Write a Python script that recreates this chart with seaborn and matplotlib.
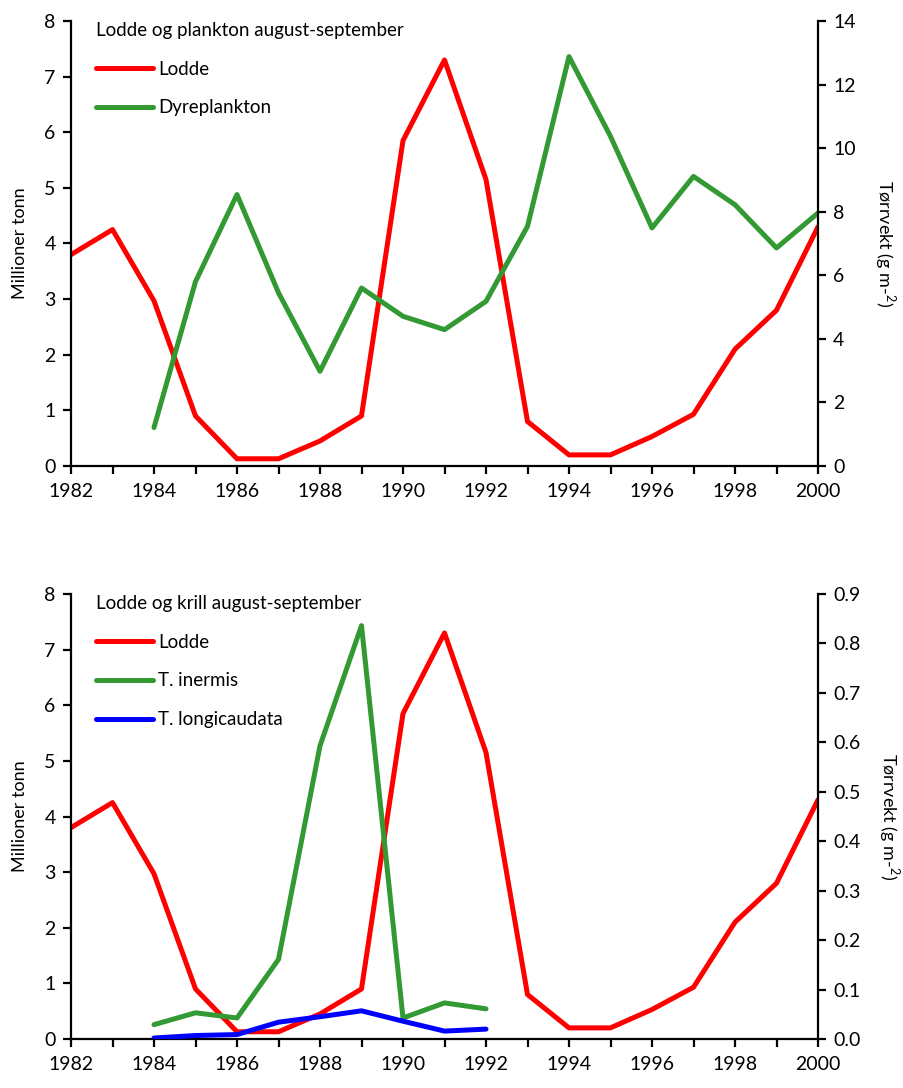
import matplotlib
matplotlib.use("Agg")
import matplotlib.pyplot as plt
import seaborn as sns
import numpy as np
from matplotlib.ticker import MultipleLocator, FormatStrFormatter

years = list(range(1982, 2001))
lodde = [3.8, 4.25, 2.97, 0.9, 0.13, 0.13, 0.45, 0.9, 5.85, 7.3, 5.15,
         0.8, 0.2, 0.2, 0.53, 0.93, 2.1, 2.8, 4.3]

plankton_years = list(range(1984, 2001))
dyreplankton = [1.21, 5.8, 8.54, 5.45, 2.98, 5.6, 4.71, 4.29, 5.18, 7.54,
                12.88, 10.37, 7.49, 9.11, 8.22, 6.86, 7.96]

krill_years = list(range(1984, 1993))
t_inermis = [0.029, 0.053, 0.0425, 0.161, 0.593, 0.836, 0.0425, 0.073, 0.061]
t_longicaudata = [0.002, 0.007, 0.009, 0.034, 0.045, 0.057, 0.036, 0.016, 0.020]

RED = "#ff0000"
GREEN = "#339933"
BLUE = "#0000ff"

sns.set_style("ticks")
FONT = 'Lato'
plt.rcParams['font.family'] = [FONT, 'DejaVu Sans']
plt.rcParams['mathtext.fontset'] = 'custom'
plt.rcParams['mathtext.rm'] = FONT
plt.rcParams['text.color'] = 'black'
plt.rcParams['axes.labelcolor'] = 'black'
plt.rcParams['xtick.color'] = 'black'
plt.rcParams['ytick.color'] = 'black'

fig = plt.figure(figsize=(9.04, 10.88), dpi=100)
W, H = 904, 1088
ax_l, ax_r = 71, 818

def make_axes(top_px, bottom_px):
    return fig.add_axes([ax_l / W, 1 - bottom_px / H, (ax_r - ax_l) / W, (bottom_px - top_px) / H])

LW = 3.6
TICK_FS = 14
LEG_FS = 13.5

def style_axes(ax, ax2, right_max, right_step, right_fmt):
    ax.set_xlim(1982, 2000)
    ax.set_ylim(0, 8)
    ax2.set_ylim(0, right_max)
    ax.xaxis.set_major_locator(MultipleLocator(2))
    ax.xaxis.set_minor_locator(MultipleLocator(1))
    ax.yaxis.set_major_locator(MultipleLocator(1))
    ax2.yaxis.set_major_locator(MultipleLocator(right_step))
    if right_fmt:
        ax2.yaxis.set_major_formatter(FormatStrFormatter(right_fmt))
    for a in (ax, ax2):
        for s in a.spines.values():
            s.set_linewidth(1.6)
            s.set_color("black")
        a.spines['top'].set_visible(False)
    ax.spines['right'].set_visible(False)
    ax2.spines['left'].set_visible(False)
    ax2.spines['bottom'].set_visible(False)
    ax.tick_params(axis='x', which='both', direction='out', length=6, width=1.6,
                   labelsize=TICK_FS, pad=6, colors='black')
    ax.tick_params(axis='y', direction='out', length=6, width=1.6, labelsize=TICK_FS, pad=5)
    ax2.tick_params(axis='y', direction='out', length=6, width=1.6, labelsize=TICK_FS, pad=5)
    ax.set_ylabel("Millioner tonn", fontsize=13, labelpad=12)
    ax2.set_ylabel("Tørrvekt (g m-$^{2}$)", fontsize=13, rotation=270, labelpad=30)
    ax.set_xlabel("")
    ax.grid(False)
    ax2.grid(False)

def add_legend(ax_main, ax_twin, title):
    h1, l1 = ax_main.get_legend_handles_labels()
    h2, l2 = ax_twin.get_legend_handles_labels()
    for a in (ax_main, ax_twin):
        if a.get_legend():
            a.get_legend().remove()
    ax_twin.legend(h1 + h2, l1 + l2, title=title,
                   loc='upper left', bbox_to_anchor=(0.024, 1.015), borderaxespad=0,
                   frameon=False, fontsize=LEG_FS, title_fontsize=LEG_FS,
                   handlelength=3.0, handletextpad=0.3, labelspacing=1.16,
                   alignment='left')

# Top panel
ax1 = make_axes(21, 466)
ax1b = ax1.twinx()
sns.lineplot(x=years, y=lodde, ax=ax1, color=RED, linewidth=LW, label="Lodde", legend=False)
sns.lineplot(x=plankton_years, y=dyreplankton, ax=ax1b, color=GREEN, linewidth=LW,
             label="Dyreplankton", legend=False)
style_axes(ax1, ax1b, 14, 2, None)
add_legend(ax1, ax1b, "Lodde og plankton august-september")

# Bottom panel
ax2 = make_axes(594, 1039)
ax2b = ax2.twinx()
sns.lineplot(x=years, y=lodde, ax=ax2, color=RED, linewidth=LW, label="Lodde", legend=False)
sns.lineplot(x=krill_years, y=t_inermis, ax=ax2b, color=GREEN, linewidth=LW,
             label="T. inermis", legend=False)
sns.lineplot(x=krill_years, y=t_longicaudata, ax=ax2b, color=BLUE, linewidth=LW,
             label="T. longicaudata", legend=False)
style_axes(ax2, ax2b, 0.9, 0.1, '%.1f')
add_legend(ax2, ax2b, "Lodde og krill august-september")

fig.savefig("out.png", dpi=100)
